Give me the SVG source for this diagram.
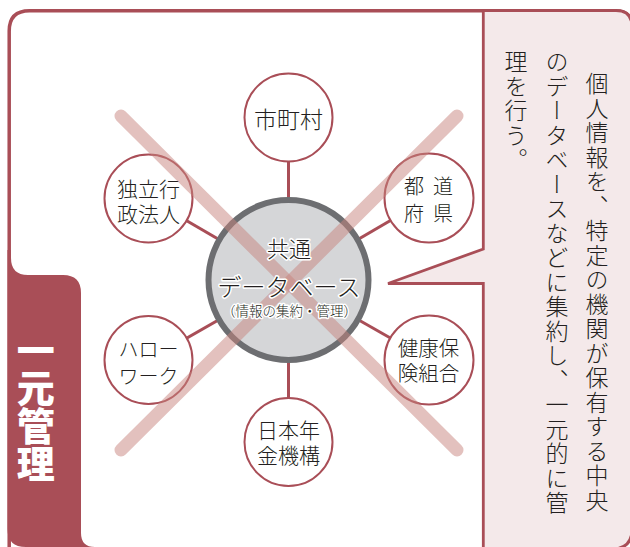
<svg xmlns="http://www.w3.org/2000/svg" width="630" height="547" viewBox="0 0 630 547">
<style>
.t{font-family:"Noto Sans CJK JP","Noto Sans CJK SC",sans-serif;fill:#231f20;font-weight:300}
.c{text-anchor:middle;dominant-baseline:central}
.sat{fill:#ffffff;stroke:#a94e57;stroke-width:2}
.con{stroke:#a94e57;stroke-width:3;fill:none}
.halo{stroke:#ffffff;stroke-width:3;paint-order:stroke;stroke-linejoin:round}
.v{writing-mode:vertical-rl;font-size:23px;letter-spacing:1.5px}
.tab{font-family:"Noto Sans CJK JP",sans-serif;font-weight:900;font-size:38px;fill:#ffffff;writing-mode:vertical-rl}
</style>
<rect x="0" y="0" width="630" height="547" fill="#ffffff"/>
<g id="frame">
<path d="M9.2 570 V31 Q9.2 10.7 29.5 10.7 H616 Q632 10.7 632 27 V570" fill="#ffffff" stroke="#a94e57" stroke-width="3.5"/>
</g>
<g id="bubble">
<path d="M483.3 10.7 H616 Q632 10.7 632 27 V529 Q632 549 612 549 H483.3 V283.5 H388 L483.3 249 Z" fill="#f4e9ea" stroke="#a94e57" stroke-width="2.8" stroke-linejoin="miter"/>
<g class="t v">
<text x="597" y="72">個人情報を、特定の機関が保有する中央</text>
<text x="557" y="50">のデータベースなどに集約し、一元的に管</text>
<text x="516" y="50">理を行う。</text>
</g>
</g>
<g id="tab">
<path d="M7.5 250 V529 Q7.5 547 26 547 H95 Q81 547 81 533 V293 Q81 275 63 275 H28 Q11 275 11 258 V250 Z" fill="#a94e57"/>
<text class="tab" x="35.7" y="331">一元管理</text>
</g>
<g id="connectors">
<line class="con" x1="288.5" y1="280" x2="288.5" y2="117"/>
<line class="con" x1="288.5" y1="280" x2="288.5" y2="442"/>
<line class="con" x1="288.5" y1="280" x2="148.5" y2="198.5"/>
<line class="con" x1="288.5" y1="280" x2="429" y2="198"/>
<line class="con" x1="288.5" y1="280" x2="148.5" y2="360"/>
<line class="con" x1="288.5" y1="280" x2="429" y2="360"/>
</g>
<g id="node-city">
<circle class="sat" cx="288.5" cy="117.5" r="44"/>
<text class="t c" x="288.5" y="118" font-size="23">市町村</text>
</g>
<g id="node-agency">
<circle class="sat" cx="148.5" cy="198.5" r="44"/>
<text class="t c" font-size="21"><tspan x="148.5" y="188">独立行</tspan><tspan x="148.5" y="213">政法人</tspan></text>
</g>
<g id="node-prefecture">
<circle class="sat" cx="429" cy="198" r="44.5"/>
<text class="t c" font-size="20"><tspan x="414" y="185">都</tspan><tspan x="443" y="185">道</tspan><tspan x="414" y="212">府</tspan><tspan x="443" y="212">県</tspan></text>
</g>
<g id="node-hellowork">
<circle class="sat" cx="148.5" cy="360" r="44"/>
<text class="t c" font-size="20"><tspan x="148.5" y="348">ハロー</tspan><tspan x="148.5" y="375">ワーク</tspan></text>
</g>
<g id="node-health">
<circle class="sat" cx="429" cy="360" r="44.5"/>
<text class="t c" font-size="20.5"><tspan x="428.5" y="347">健康保</tspan><tspan x="428.5" y="372">険組合</tspan></text>
</g>
<g id="node-pension">
<circle class="sat" cx="288.5" cy="442" r="44"/>
<text class="t c" font-size="21"><tspan x="288.5" y="428.5">日本年</tspan><tspan x="288.5" y="454">金機構</tspan></text>
</g>
<g id="node-db">
<circle cx="288.5" cy="280" r="80" fill="#d5d6d8" stroke="#6d6e71" stroke-width="6"/>
</g>
<g id="cross" stroke="#c8847d" stroke-opacity="0.5" stroke-width="13" stroke-linecap="round">
<line x1="121" y1="116" x2="457" y2="450"/>
<line x1="457" y1="116" x2="121" y2="450"/>
</g>
<g id="node-db-label" class="t c halo">
<text x="289" y="247" font-size="22">共通</text>
<text x="289" y="285" font-size="24">データベース</text>
<text x="289.5" y="310" font-size="13.5">（情報の集約・管理）</text>
</g>
</svg>
